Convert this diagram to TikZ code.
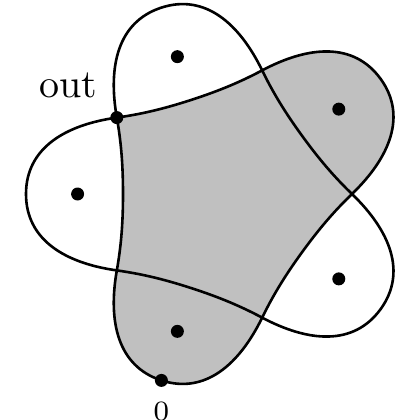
\documentclass[tikz,border=0pt]{standalone}
\newcommand\mypetal[1]{.. controls ({#1+23.82}:171.3) and ({#1+13.21}:201.3) .. ({#1}:196) .. controls ({#1-13.21}:201.3) and ({#1-23.82}:171.3) .. ({#1-36}:130) }
\newcommand\myconn[1]{.. controls ({#1+28.37}:115.2) and ({#1+17.91}:104.0) .. ({#1}:99) .. controls ({#1-17.91}:104.0) and ({#1-28.37}:115.2) .. ({#1-36}:130) }
\definecolor{petalgray}{RGB}{192,192,192}
\begin{document}
\begin{tikzpicture}[x=0.25pt,y=0.25pt,
  curve/.style={line width=0.65pt, line join=round},
  dotnode/.style={circle, fill=black, inner sep=0pt, minimum size=3.25pt}]
\useasboundingbox (-222,-226) rectangle (198,194);
\fill[petalgray] (144:130) \myconn{108} \mypetal{36} \myconn{-36} \mypetal{-108} \myconn{-180} -- cycle;
\draw[curve] (144:130) \mypetal{108} \myconn{36} \mypetal{-36} \myconn{-108} \mypetal{-180} \myconn{-252} \mypetal{-324} \myconn{-396} \mypetal{-468} \myconn{-540} -- cycle;
\node[dotnode] (p1) at (108:144.4) {};
\node[dotnode] (p2) at (36:144.4) {};
\node[dotnode] (p3) at (-36:144.4) {};
\node[dotnode] (p4) at (-108:144.4) {};
\node[dotnode] (p5) at (180:144.4) {};
\node[dotnode] (out) at (144:130) {};
\node[dotnode] (zero) at (252:196) {};
\node[anchor=south east] (outlbl) at (out.north west) {out};
\node[anchor=north, font=\scriptsize] (zerolbl) at (zero.south) {0};
\end{tikzpicture}
\end{document}
